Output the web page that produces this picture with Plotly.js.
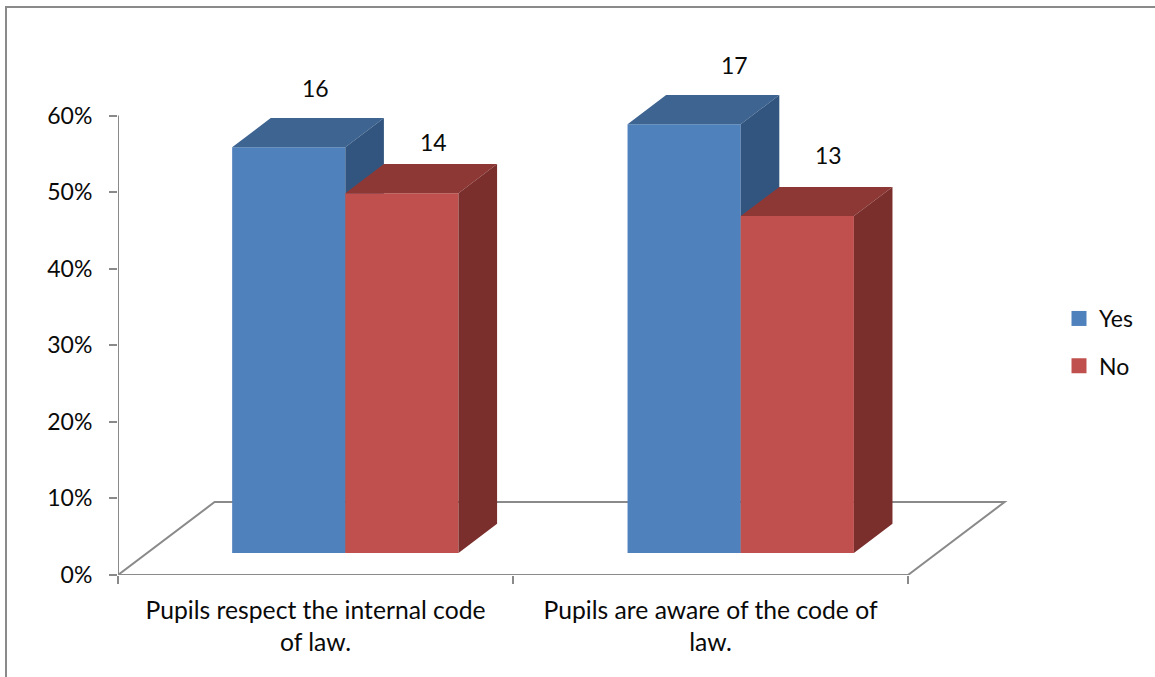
<!DOCTYPE html>
<html>
<head>
<meta charset="utf-8">
<script src="https://cdn.plot.ly/plotly-3.0.1.min.js"></script>
<style>
  html, body { margin: 0; padding: 0; background: #fff; }
  #chart { width: 1155px; height: 677px; }
</style>
</head>
<body>
<div id="chart"></div>
<script>
// Survey answers per statement
const categories = ["Pupils respect the internal code<br>of law.", "Pupils are aware of the code of<br>law."];
const yesShare = [53, 56];
const noShare = [47, 44];
const yesCount = [16, 17];
const noCount = [14, 13];
const yTicks = [0, 10, 20, 30, 40, 50, 60];

// Oblique projection used for the box faces, in axis units
const floorDepthX = 0.2445, floorDepthY = 9.53;
const boxDepthX = 0.0977, boxDepthY = 3.81;
const boxBase = 2.87, boxWidth = 0.2865;
const groupCentres = [0.5755, 1.5765];

const ink = "#0a0a0a", rule = "#8a8a8a";
const fontFamily = "Lato, sans-serif";
const plotW = 892, plotH = 536, marginLeft = 118, marginTop = 39;

function faces(values, offset) {
  const topX = [], topY = [], sideX = [], sideY = [];
  values.forEach((v, i) => {
    const x0 = groupCentres[i] + offset, x1 = x0 + boxWidth, y1 = boxBase + v;
    topX.push(x0, x1, x1 + boxDepthX, x0 + boxDepthX, x0, null);
    topY.push(y1, y1, y1 + boxDepthY, y1 + boxDepthY, y1, null);
    sideX.push(x1, x1 + boxDepthX, x1 + boxDepthX, x1, x1, null);
    sideY.push(y1, y1 + boxDepthY, boxBase + boxDepthY, boxBase, y1, null);
  });
  return { topX, topY, sideX, sideY };
}

// One series: front faces as bars, top and side faces as filled polygons
function boxSeries(name, values, offset, front, topColor, sideColor, xa, ya) {
  const f = faces(values, offset);
  const poly = (x, y, color) => ({
    type: "scatter", mode: "lines", x, y, xaxis: xa, yaxis: ya,
    fill: "toself", fillcolor: color, line: { width: 0 },
    showlegend: false, hoverinfo: "skip"
  });
  return [
    { type: "bar", name, x: groupCentres, y: values, base: boxBase, width: boxWidth, offset,
      marker: { color: front, line: { width: 0 } }, xaxis: xa, yaxis: ya, showlegend: false },
    poly(f.topX, f.topY, topColor),
    poly(f.sideX, f.sideY, sideColor)
  ];
}

const legendKey = (name, color) => ({
  type: "scatter", mode: "markers", name, x: [null], y: [null], legendgroup: name,
  marker: { symbol: "square", size: 15, color, line: { width: 0 } }
});

const traces = [
  ...boxSeries("Yes", yesShare, -boxWidth, "#4F81BD", "#3E6491", "#32557F", "x", "y"),
  ...boxSeries("No", noShare, 0, "#C0504D", "#8E3836", "#7A2F2D", "x2", "y2"),
  legendKey("Yes", "#4F81BD"),
  legendKey("No", "#C0504D")
];

// Value labels, nudged to sit over each box's back edge
const labelShift = [[26.7, 59], [50, 59], [32, 51], [31, 61]];
const labelled = [
  ...yesCount.map((c, i) => ({ c, v: yesShare[i], x: groupCentres[i] - boxWidth / 2 })),
  ...noCount.map((c, i) => ({ c, v: noShare[i], x: groupCentres[i] + boxWidth / 2 }))
];
const annotations = labelled.map((d, i) => ({
  x: d.x, y: boxBase + d.v, xref: "x", yref: "y", text: String(d.c), showarrow: false,
  xanchor: "center", yanchor: "middle", xshift: labelShift[i][0], yshift: labelShift[i][1],
  font: { family: fontFamily, size: 23, color: ink }
}));

const px = p => (p - marginLeft) / plotW;
const py = p => (marginTop + plotH - p) / plotH;

const layout = {
  width: 1155, height: 677,
  margin: { l: marginLeft, r: 1155 - marginLeft - plotW, t: marginTop, b: 677 - marginTop - plotH, pad: 0, autoexpand: false },
  paper_bgcolor: "#fff", plot_bgcolor: "rgba(0,0,0,0)",
  barmode: "overlay", hovermode: false, showlegend: true,
  font: { family: fontFamily, color: ink },
  xaxis: {
    range: [0, plotW / 395], showgrid: false, zeroline: false, showline: false,
    tickmode: "array", tickvals: [0.5, 1.5], ticktext: categories, ticks: "",
    tickangle: 0, ticklabelstandoff: 18, tickfont: { family: fontFamily, size: 24.7, color: ink },
    minor: { tickmode: "array", tickvals: [0, 1, 2], ticks: "outside", ticklen: 8, tickwidth: 2, tickcolor: rule, showgrid: false }
  },
  yaxis: {
    range: [0, 70], showgrid: false, zeroline: false, showline: false,
    tickmode: "array", tickvals: yTicks, ticktext: yTicks.map(t => t + "%"),
    ticks: "outside", ticklen: 8, tickwidth: 2, tickcolor: rule, ticklabelstandoff: 12,
    tickfont: { family: fontFamily, size: 23, color: ink }
  },
  xaxis2: { overlaying: "x", anchor: "y2", range: [0, plotW / 395], visible: false },
  yaxis2: { overlaying: "y", anchor: "x2", range: [0, 70], visible: false },
  legend: {
    x: px(1059), xanchor: "left", y: py(297), yanchor: "top",
    bgcolor: "rgba(0,0,0,0)", borderwidth: 0, tracegroupgap: 14.4,
    font: { family: fontFamily, size: 23, color: ink }
  },
  annotations,
  shapes: [
    // Floor outline and axis lines
    { type: "path", xref: "x", yref: "y", layer: "below", line: { color: rule, width: 2 },
      path: `M0,60L0,0L${floorDepthX},${floorDepthY}L${2 + floorDepthX},${floorDepthY}L2,0L0,0` },
    // Chart area frame, open at the right and bottom
    { type: "path", xref: "paper", yref: "paper", layer: "below", line: { color: rule, width: 2 },
      path: `M${px(1155)},${py(7)}L${px(6)},${py(7)}L${px(6)},${py(677)}` }
  ]
};

Plotly.newPlot("chart", traces, layout, { displayModeBar: false, staticPlot: true });
</script>
</body>
</html>
